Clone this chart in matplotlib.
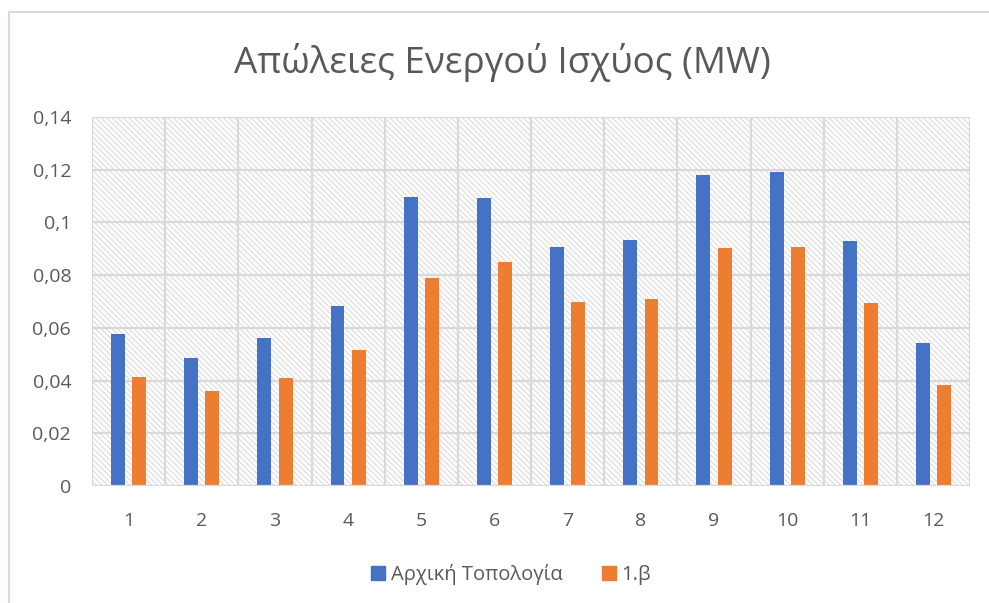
import matplotlib
matplotlib.use("Agg")
import matplotlib.pyplot as plt
from matplotlib.patches import Rectangle
from matplotlib.lines import Line2D
import numpy as np

plt.rcParams['font.family'] = ['Open Sans', 'DejaVu Sans']
plt.rcParams['hatch.linewidth'] = 0.9
plt.rcParams['hatch.color'] = '#dedede'

title = "Απώλειες Ενεργού Ισχύος (MW)"
categories = ["1", "2", "3", "4", "5", "6", "7", "8", "9", "10", "11", "12"]
series_names = ["Αρχική Τοπολογία", "1.β"]
initial = [0.0578, 0.0486, 0.0562, 0.0684, 0.1098, 0.1094, 0.0908, 0.0932, 0.1181, 0.1191, 0.0928, 0.0541]
variant = [0.0413, 0.0361, 0.0410, 0.0517, 0.0791, 0.0849, 0.0700, 0.0711, 0.0904, 0.0908, 0.0695, 0.0383]
yticks = [0, 0.02, 0.04, 0.06, 0.08, 0.10, 0.12, 0.14]
ytick_labels = ["0", "0,02", "0,04", "0,06", "0,08", "0,1", "0,12", "0,14"]

blue = '#4472C4'
orange = '#ED7D31'
grid = '#d9d9d9'
text_col = '#595959'

fig = plt.figure(figsize=(9.89, 6.03), dpi=100)
ax = fig.add_axes([0.093, 0.194, 0.888, 0.612])

x = np.arange(len(categories))
w = 0.19
off = 0.145
ax.bar(x - off, initial, w, color=blue, zorder=3)
ax.bar(x + off, variant, w, color=orange, zorder=3)

ax.set_xlim(-0.5, len(categories) - 0.5)
ax.set_ylim(0, 0.14)

# hatched background
ax.set_facecolor('white')
bg = Rectangle((0, 0), 1, 1, transform=ax.transAxes, facecolor='white',
               hatch='\\' * 6, edgecolor='#dedede', linewidth=0, zorder=0)
ax.add_patch(bg)

# gridlines
for yv in yticks[1:]:
    ax.axhline(yv, color=grid, lw=1.6, zorder=1)
for b in np.arange(-0.5, len(categories) + 0.5, 1):
    ax.axvline(b, color=grid, lw=1.6, zorder=1)
ax.axhline(0, color=grid, lw=1.6, zorder=4)

for s in ax.spines.values():
    s.set_visible(False)

ax.set_yticks(yticks)
ax.set_yticklabels(ytick_labels)
ax.set_xticks(x)
ax.set_xticklabels(categories)
ax.tick_params(axis='both', length=0, labelsize=14, colors=text_col)
ax.tick_params(axis='y', pad=15)
ax.tick_params(axis='x', pad=19)

fig.text(0.508, 0.897, title, ha='center', va='center', fontsize=26.5, color=text_col)

handles = [Line2D([], [], marker='s', linestyle='none', markersize=10.5, color=blue),
           Line2D([], [], marker='s', linestyle='none', markersize=10.5, color=orange)]
fig.legend(handles, series_names, loc='center', bbox_to_anchor=(0.515, 0.048), ncol=2,
           frameon=False, fontsize=14.5, labelcolor=text_col, handletextpad=0.1,
           columnspacing=1.8, handlelength=1.0)

# chart area border (top and left visible)
fig.add_artist(Line2D([0.0095, 0.0095], [0, 1 - 12/603], transform=fig.transFigure, color='#d9d9d9', lw=1.5))
fig.add_artist(Line2D([0.0095, 1], [1 - 12/603, 1 - 12/603], transform=fig.transFigure, color='#d9d9d9', lw=1.5))

fig.savefig('out.png', dpi=100)
